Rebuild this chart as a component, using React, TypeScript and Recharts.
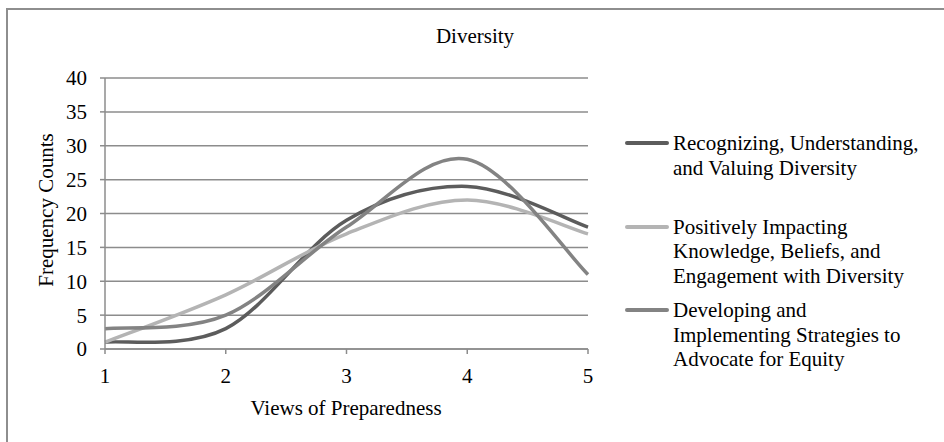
import React from "react"
import { LineChart, Line, XAxis, YAxis, CartesianGrid, Label } from "recharts"

// frequency counts per view of preparedness (1..5)
const views = [1, 2, 3, 4, 5]
const recognizing = [1, 3, 19, 24, 18]
const impacting = [1, 8, 17, 22, 17]
const developing = [3, 5, 18, 28, 11]
const yTicks = [0, 5, 10, 15, 20, 25, 30, 35, 40]

const seriesInfo = [
  { key: "recognizing", color: "#5c5c5c", lines: ["Recognizing, Understanding,", "and Valuing Diversity"] },
  { key: "impacting", color: "#b4b4b4", lines: ["Positively Impacting", "Knowledge, Beliefs, and", "Engagement with Diversity"] },
  { key: "developing", color: "#838383", lines: ["Developing and", "Implementing Strategies to", "Advocate for Equity"] },
]

const data = views.map((v, i) => ({
  view: v,
  recognizing: recognizing[i],
  impacting: impacting[i],
  developing: developing[i],
}))

const FONT = '"Liberation Serif", "Times New Roman", serif'
const GRID = "#8c8c8c"

// smoothed line like the office "smoothed line" option (catmull-rom bezier)
const smoothCurve = (context: any) => {
  let pts: number[][] = []
  return {
    areaStart() {},
    areaEnd() {},
    lineStart() {
      pts = []
    },
    point(x: number, y: number) {
      pts.push([+x, +y])
    },
    lineEnd() {
      if (!pts.length) return
      context.moveTo(pts[0][0], pts[0][1])
      for (let i = 0; i < pts.length - 1; i++) {
        const p0 = pts[i - 1] || pts[i]
        const p1 = pts[i]
        const p2 = pts[i + 1]
        const p3 = pts[i + 2] || p2
        context.bezierCurveTo(
          p1[0] + (p2[0] - p0[0]) / 6,
          p1[1] + (p2[1] - p0[1]) / 6,
          p2[0] - (p3[0] - p1[0]) / 6,
          p2[1] - (p3[1] - p1[1]) / 6,
          p2[0],
          p2[1],
        )
      }
    },
  }
}

export default function App() {
  return (
    <div
      style={{
        position: "absolute",
        left: 0,
        top: 0,
        width: 944,
        height: 442,
        overflow: "hidden",
        background: "#fff",
        fontFamily: FONT,
      }}
    >
      <div
        style={{
          position: "absolute",
          left: 6,
          top: 8,
          width: 980,
          height: 480,
          border: "2px solid #8e8e8e",
        }}
      />
      <div
        style={{
          position: "absolute",
          left: 0,
          width: 950,
          top: 24,
          textAlign: "center",
          fontSize: 21,
          color: "#000",
        }}
      >
        Diversity
      </div>
      <LineChart
        width={944}
        height={442}
        data={data}
        margin={{ top: 78, right: 356, bottom: 0, left: 0 }}
        style={{ position: "absolute", left: 0, top: 0 }}
      >
        <CartesianGrid vertical={false} stroke={GRID} strokeWidth={1.5} />
        <XAxis
          dataKey="view"
          type="number"
          domain={[1, 5]}
          ticks={views}
          height={93}
          tickSize={5}
          tickMargin={14}
          axisLine={{ stroke: GRID, strokeWidth: 1.5 }}
          tickLine={{ stroke: GRID, strokeWidth: 1.5 }}
          tick={{ fill: "#000", fontSize: 21, fontFamily: FONT }}
        >
          <Label
            content={() => (
              <text x={346} y={408} textAnchor="middle" dominantBaseline="central" fontSize={21} fontFamily={FONT} fill="#000">
                Views of Preparedness
              </text>
            )}
          />
        </XAxis>
        <YAxis
          domain={[0, 40]}
          ticks={yTicks}
          width={105}
          tickSize={5}
          tickMargin={13}
          axisLine={{ stroke: GRID, strokeWidth: 1.5 }}
          tickLine={{ stroke: GRID, strokeWidth: 1.5 }}
          tick={{ fill: "#000", fontSize: 21, fontFamily: FONT }}
        >
          <Label
            content={() => (
              <text
                x={46}
                y={210}
                transform="rotate(-90 46 210)"
                textAnchor="middle"
                dominantBaseline="central"
                fontSize={21}
                fontFamily={FONT}
                fill="#000"
              >
                Frequency Counts
              </text>
            )}
          />
        </YAxis>
        {seriesInfo.map((s) => (
          <Line
            key={s.key}
            dataKey={s.key}
            type={smoothCurve as any}
            stroke={s.color}
            strokeWidth={3.5}
            dot={false}
            activeDot={false}
            isAnimationActive={false}
          />
        ))}
      </LineChart>
      {seriesInfo.map((s, i) => (
        <div key={s.key} style={{ position: "absolute", left: 625, top: 131 + i * 83.5, height: 83 }}>
          <div style={{ position: "absolute", left: 0, top: 10, width: 44, height: 4, background: s.color, borderRadius: 2 }} />
          <div style={{ position: "absolute", left: 48, top: 0, fontSize: 21, lineHeight: "24.5px", whiteSpace: "nowrap", color: "#000" }}>
            {s.lines.map((l) => (
              <div key={l}>{l}</div>
            ))}
          </div>
        </div>
      ))}
    </div>
  )
}
